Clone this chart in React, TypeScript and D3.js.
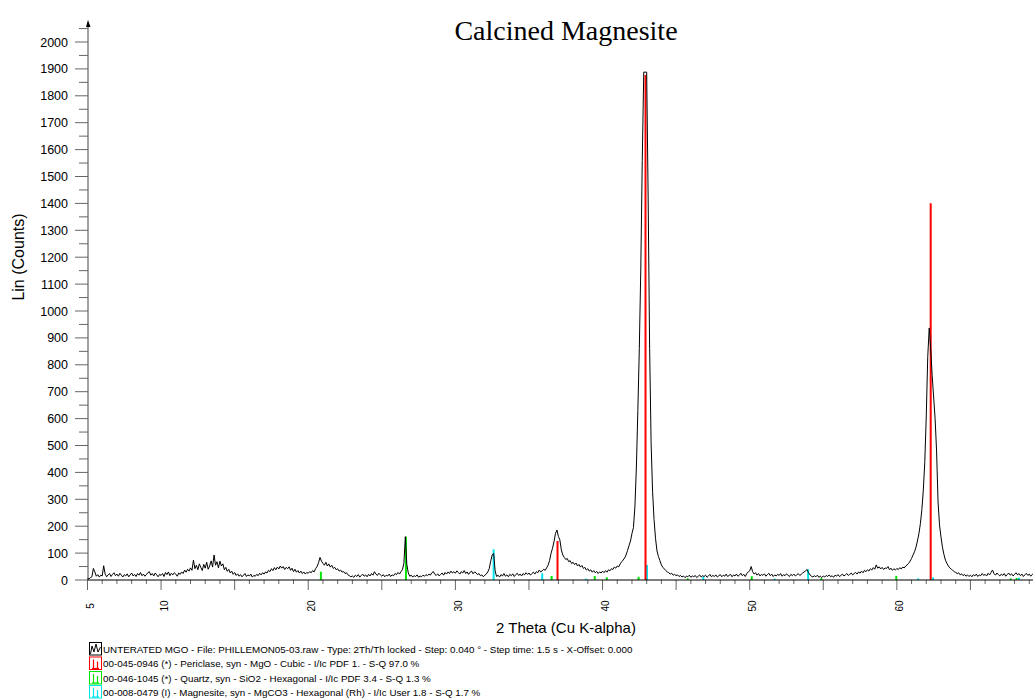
import React from "react";
import * as d3 from "d3";

// ---- XRD scan (Lin counts), 0.1° steps, one array per 5° block ----
const counts05 = [
  6, 4, 9, 12, 43, 30, 14, 20, 11, 18,
  15, 53, 22, 12, 19, 24, 13, 21, 27, 16,
  22, 14, 25, 18, 11, 20, 15, 23, 12, 19,
  26, 15, 21, 13, 24, 18, 28, 16, 22, 14,
  20, 27, 31, 18, 24, 15, 26, 19, 12, 21,
];
const counts10 = [
  17, 24, 13, 28, 20, 30, 16, 25, 19, 27,
  22, 14, 26, 21, 30, 24, 37, 29, 40, 33,
  45, 36, 74, 42, 55, 38, 60, 47, 35, 58,
  44, 66, 40, 52, 71, 48, 93, 55, 68, 45,
  70, 52, 60, 38, 47, 32, 40, 26, 33, 21,
];
const counts15 = [
  28, 17, 23, 14, 20, 12, 18, 24, 13, 19,
  15, 22, 11, 17, 14, 21, 16, 25, 19, 27,
  22, 30, 26, 36, 31, 42, 35, 46, 38, 48,
  41, 52, 44, 50, 39, 47, 42, 49, 36, 44,
  31, 40, 29, 35, 26, 33, 24, 30, 22, 28,
];
const counts20 = [
  25, 31, 27, 35, 30, 42, 50, 64, 84, 70,
  62, 55, 66, 52, 60, 48, 55, 43, 47, 38,
  42, 33, 37, 29, 32, 24, 27, 19, 16, 12,
  15, 10, 18, 13, 20, 11, 16, 22, 14, 19,
  12, 21, 15, 24, 18, 31, 22, 17, 25, 19,
];
const counts25 = [
  14, 20, 12, 18, 15, 22, 13, 19, 16, 24,
  20, 28, 22, 31, 38, 62, 161, 58, 26, 14,
  18, 11, 16, 13, 19, 10, 15, 12, 18, 14,
  20, 16, 22, 18, 27, 31, 21, 17, 23, 15,
  21, 26, 18, 28, 22, 30, 24, 33, 26, 31,
];
const counts30 = [
  25, 34, 28, 22, 31, 26, 35, 24, 30, 21,
  29, 33, 23, 30, 27, 20, 24, 16, 19, 12,
  18, 22, 30, 42, 70, 93, 99, 34, 13, 18,
  11, 20, 15, 24, 14, 19, 12, 21, 16, 23,
  13, 20, 25, 17, 22, 15, 24, 19, 27, 21,
];
const counts35 = [
  26, 18, 24, 29, 22, 31, 27, 37, 30, 34,
  40, 36, 45, 55, 72, 99, 118, 142, 172, 186,
  162, 149, 112, 93, 84, 76, 80, 68, 72, 61,
  66, 57, 63, 52, 58, 48, 54, 43, 47, 37,
  42, 33, 38, 29, 35, 27, 32, 24, 30, 26,
];
const counts40 = [
  33, 27, 35, 29, 38, 34, 42, 39, 48, 44,
  52, 49, 60, 68, 74, 82, 93, 110, 128, 145,
  173, 195, 272, 420, 630, 860, 1160, 1560, 1888, 1888,
  1888, 1420, 860, 510, 330, 225, 155, 108, 87, 72,
  56, 47, 41, 35, 30, 27, 22, 25, 18, 21,
];
const counts45 = [
  16, 19, 13, 17, 11, 15, 9, 14, 12, 18,
  10, 15, 12, 17, 9, 14, 19, 11, 16, 13,
  18, 10, 15, 21, 12, 17, 13, 19, 11, 16,
  20, 12, 18, 14, 22, 13, 17, 21, 12, 19,
  15, 22, 14, 18, 25, 16, 21, 13, 24, 30,
];
const counts50 = [
  34, 50, 31, 22, 27, 18, 24, 15, 21, 17,
  23, 14, 20, 25, 16, 22, 13, 19, 15, 21,
  17, 24, 14, 20, 16, 23, 18, 13, 21, 16,
  22, 15, 19, 24, 17, 21, 26, 30, 34, 39,
  27, 19, 14, 11, 16, 12, 18, 10, 14, 9,
];
const counts55 = [
  15, 11, 17, 13, 19, 12, 16, 10, 18, 14,
  20, 13, 17, 22, 15, 19, 24, 17, 21, 26,
  19, 24, 28, 22, 30, 25, 33, 27, 36, 31,
  38, 33, 42, 37, 46, 40, 56, 44, 49, 41,
  47, 39, 45, 43, 50, 38, 44, 36, 42, 37,
];
const counts60 = [
  43, 39, 46, 41, 48, 45, 52, 56, 62, 70,
  80, 93, 105, 122, 145, 172, 210, 262, 335, 440,
  610, 830, 937, 860, 760, 680, 600, 480, 290, 205,
  160, 122, 95, 74, 62, 52, 45, 40, 36, 31,
  28, 24, 27, 19, 23, 16, 21, 14, 19, 13,
];
const counts65 = [
  18, 12, 20, 15, 22, 13, 19, 16, 24, 17,
  21, 15, 25, 19, 28, 37, 24, 18, 26, 20,
  15, 22, 17, 24, 14, 20, 26, 18, 23, 15,
  21, 27, 19, 24, 16, 22, 13, 19, 25, 17,
  22, 14, 20, 26, 18, 23, 15, 21, 17, 24, 19,
];
const blockStarts = [5, 10, 15, 20, 25, 30, 35, 40, 45, 50, 55, 60, 65];
const blocks = [
  counts05, counts10, counts15, counts20, counts25, counts30, counts35,
  counts40, counts45, counts50, counts55, counts60, counts65,
];
const STEP = 0.1;

// ---- reference patterns (stick lines) ----
const periclasePos = [36.94, 42.92, 62.3];
const periclaseInt = [145, 1877, 1401];
const quartzPos = [20.86, 26.64, 36.54, 39.47, 40.29, 42.45, 45.79, 50.14, 54.87, 59.96, 67.74, 68.14, 68.31];
const quartzInt = [31, 161, 15, 15, 10, 12, 6, 14, 7, 15, 6, 7, 8];
const magnesitePos = [32.6, 35.9, 38.87, 43.02, 46.85, 51.7, 53.97, 61.45, 62.46, 68.3];
const magnesiteInt = [114, 25, 5, 56, 13, 5, 40, 6, 10, 8];

// ---- axes ----
const yTickValues = [0, 100, 200, 300, 400, 500, 600, 700, 800, 900, 1000, 1100, 1200, 1300, 1400, 1500, 1600, 1700, 1800, 1900, 2000];
const yMinorValues = [50, 150, 250, 350, 450, 550, 650, 750, 850, 950, 1050, 1150, 1250, 1350, 1450, 1550, 1650, 1750, 1850, 1950, 2050];
const xTickLabels = [5, 10, 20, 30, 40, 50, 60];

const legendTexts = [
  "UNTERATED MGO - File: PHILLEMON05-03.raw - Type: 2Th/Th locked - Step: 0.040 ° - Step time: 1.5 s - X-Offset: 0.000",
  "00-045-0946 (*) - Periclase, syn - MgO - Cubic - I/Ic PDF 1. - S-Q 97.0 %",
  "00-046-1045 (*) - Quartz, syn - SiO2 - Hexagonal - I/Ic PDF 3.4 - S-Q 1.3 %",
  "00-008-0479 (I) - Magnesite, syn - MgCO3 - Hexagonal (Rh) - I/Ic User 1.8 - S-Q 1.7 %",
];
const legendColors = ["#000000", "#ff0000", "#00e600", "#00e5ee"];

const W = 1033;
const H = 699;
const SANS = "'Liberation Sans', Arial, sans-serif";

export default function App() {
  const x = d3.scaleLinear().domain([5, 70]).range([87.5, 1044]);
  const y = d3.scaleLinear().domain([0, 2000]).range([580, 42]);

  const points: [number, number][] = [];
  blocks.forEach((vals, b) => {
    vals.forEach((v, i) => {
      points.push([blockStarts[b] + i * STEP, v]);
    });
  });
  const line = d3
    .line<[number, number]>()
    .x((d) => x(d[0]))
    .y((d) => y(d[1]));

  const xMinor = d3.range(5, 71, 1);

  const sticks = (pos: number[], ints: number[], color: string, key: string) =>
    pos.map((p, i) => (
      <line
        key={key + i}
        x1={x(p)}
        x2={x(p)}
        y1={y(0)}
        y2={y(ints[i])}
        stroke={color}
        strokeWidth={2}
      />
    ));

  const rowY = [649, 663.5, 678, 692];

  return (
    <svg
      width={W}
      height={H}
      style={{ position: "absolute", left: 0, top: 0, background: "#fff" }}
      fontFamily={SANS}
    >
      <rect x={0} y={0} width={W} height={H} fill="#fff" />
      {/* title */}
      <text
        x={566}
        y={40}
        textAnchor="middle"
        fontFamily="'Liberation Serif', 'Times New Roman', serif"
        fontSize={28}
        fill="#000"
      >
        Calcined Magnesite
      </text>

      {/* y axis */}
      <line x1={88} x2={88} y1={580} y2={22} stroke="#444" strokeWidth={1} />
      <path d="M88,20 L86,27 L90.5,27 Z" fill="#000" />
      {yTickValues.map((v) => (
        <g key={"yt" + v}>
          <line x1={75} x2={88} y1={y(v)} y2={y(v)} stroke="#666" />
          <text x={68} y={y(v) + 4.5} textAnchor="end" fontSize={12.5} fill="#000">
            {v}
          </text>
        </g>
      ))}
      {yMinorValues.map((v) => (
        <line key={"ym" + v} x1={79} x2={88} y1={y(v)} y2={y(v)} stroke="#666" />
      ))}
      <text
        transform={`translate(18,257) rotate(-90)`}
        textAnchor="middle"
        dy="0.35em"
        fontSize={16}
        fill="#000"
      >
        Lin (Counts)
      </text>

      {/* x axis */}
      {xMinor.map((t) => (
        <line
          key={"xt" + t}
          x1={x(t)}
          x2={x(t)}
          y1={580}
          y2={t % 5 === 0 ? 590 : 584}
          stroke="#666"
        />
      ))}
      {xTickLabels.map((t) => (
        <text
          key={"xl" + t}
          transform={`translate(${x(t) + 3},606) rotate(-90)`}
          textAnchor="middle"
          dy="0.35em"
          fontSize={10}
          fill="#000"
        >
          {t}
        </text>
      ))}
      <text x={566} y={633} textAnchor="middle" fontSize={15} fill="#000">
        2 Theta (Cu K-alpha)
      </text>

      {/* reference sticks */}
      {sticks(quartzPos, quartzInt, legendColors[2], "q")}
      {sticks(magnesitePos, magnesiteInt, legendColors[3], "m")}
      {sticks(periclasePos, periclaseInt, legendColors[1], "p")}

      {/* measured pattern */}
      <path d={line(points) || ""} fill="none" stroke="#000" strokeWidth={1} strokeLinejoin="round" />

      <line x1={87.5} x2={W} y1={580} y2={580} stroke="#000" strokeWidth={1} />

      {/* legend */}
      {legendTexts.map((t, i) => {
        const cy = rowY[i];
        const c = legendColors[i];
        return (
          <g key={"lg" + i}>
            <rect x={89.5} y={cy - 6.5} width={12} height={12.5} fill="#fff" stroke={c} strokeWidth={1} />
            {i === 0 ? (
              <path
                d={`M90.5,${cy + 5} L92,${cy - 3} L94,${cy + 3} L96,${cy - 5} L98,${cy + 3} L100.5,${cy - 2}`}
                fill="none"
                stroke="#000"
                strokeWidth={1}
              />
            ) : (
              <g stroke={c} strokeWidth={1.2}>
                <line x1={93.5} x2={93.5} y1={cy - 4} y2={cy + 5} />
                <line x1={97.5} x2={97.5} y1={cy - 2} y2={cy + 5} />
                <line x1={92} x2={99} y1={cy + 5} y2={cy + 5} />
              </g>
            )}
            <text x={103} y={cy + 3.5} fontSize={9.8} fill="#000">
              {t}
            </text>
          </g>
        );
      })}
    </svg>
  );
}
